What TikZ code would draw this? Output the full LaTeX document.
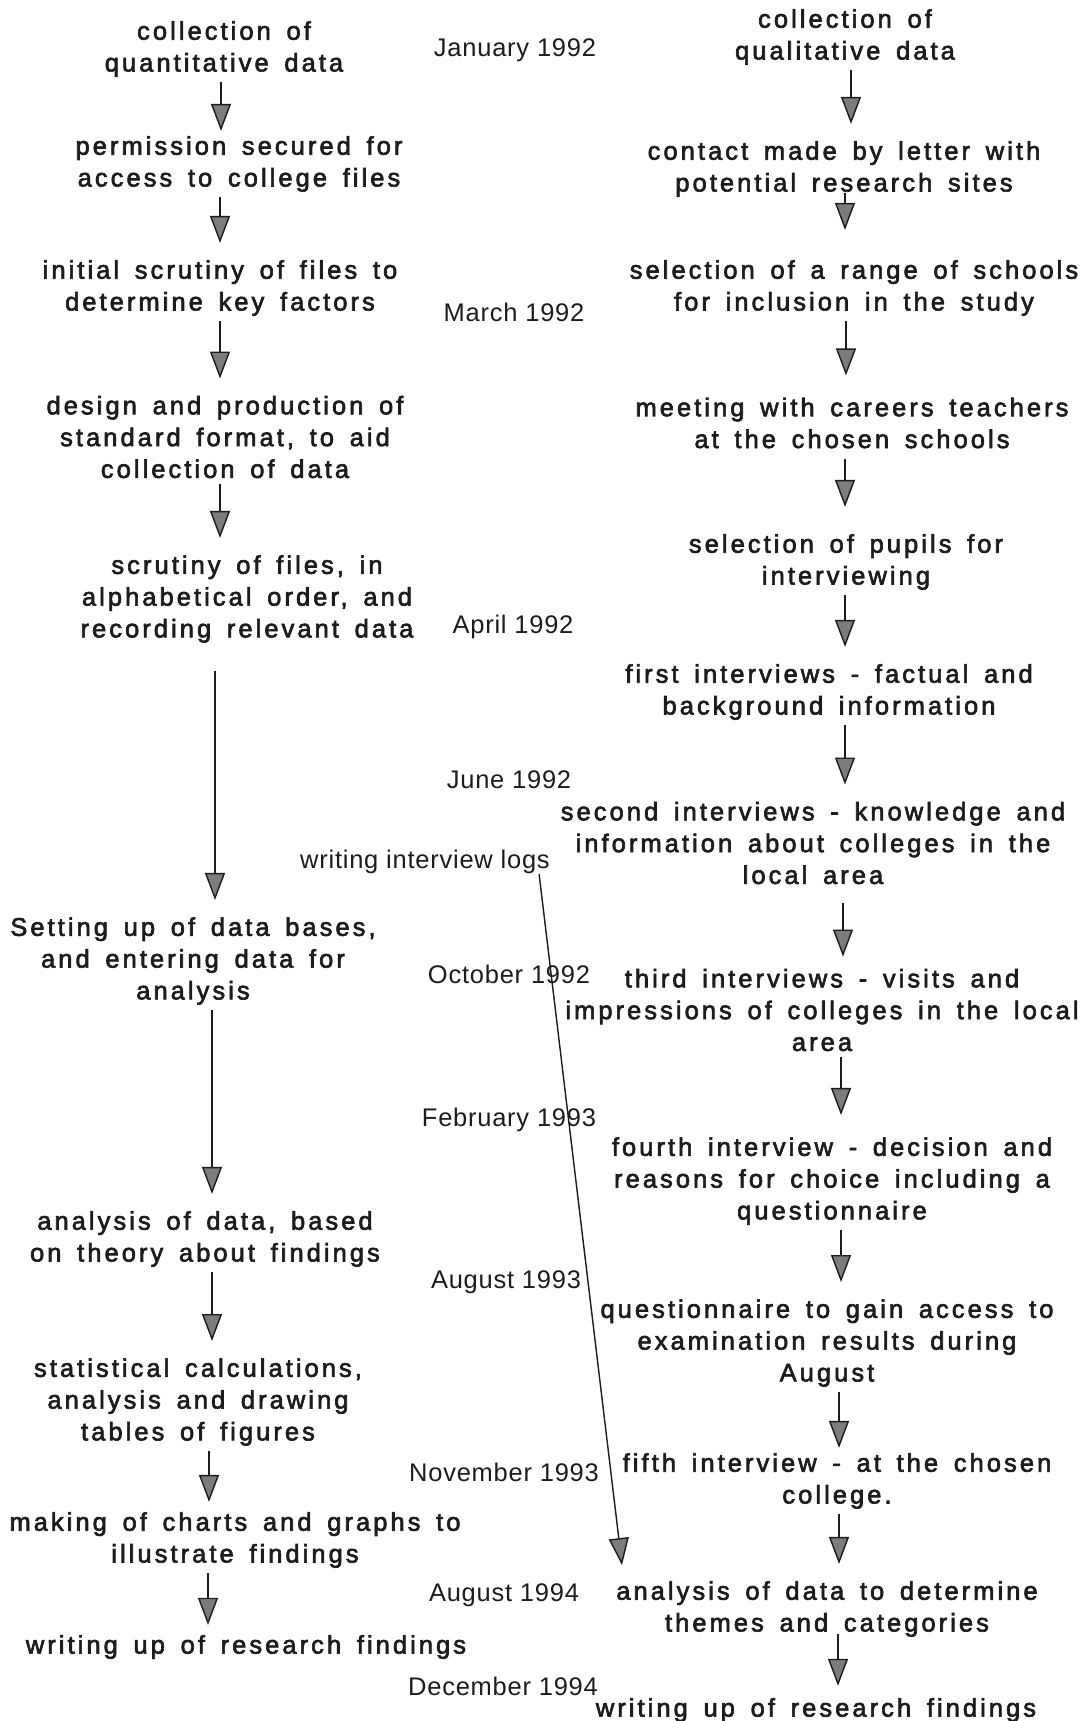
\documentclass[tikz,border=0pt]{standalone}
\usepackage{fontspec}
\usepackage{tikz}
\usetikzlibrary{arrows.meta}
\newfontfamily\stagefont{Liberation Sans}[LetterSpace=12,WordSpace=1.55,FakeBold=2.5]
\newfontfamily\datefont{Liberation Sans}[LetterSpace=3]
\definecolor{Ink}{HTML}{1C1C1C}
\definecolor{HeadGrey}{HTML}{7C7C7C}

\begin{document}
\begin{tikzpicture}[x=0.02cm, y=-0.02cm,
    stage/.style={font=\stagefont\fontsize{14.5}{18.1}\selectfont, text=Ink, align=center, inner sep=0pt},
    date/.style={font=\datefont\fontsize{14.5}{17}\selectfont, text=Ink, inner sep=0pt},
    arrow/.style={-{Triangle[length=0.54cm, width=0.4cm, fill=HeadGrey]}, draw=Ink, line width=0.8pt, shorten <=0.1cm, shorten >=0.34cm}
]
\useasboundingbox (0,0) rectangle (1088,1721);

% Quantitative data (left)
\node[stage] (L1) at (224,49) {collection of\\quantitative data};
\node[stage] (L2) at (239,164) {permission secured for\\access to college files};
\node[stage] (L3) at (220,288) {initial scrutiny of files to\\determine key factors};
\node[stage] (L4) at (225,437) {design and production of\\standard format, to aid\\collection of data};
\node[stage] (L5) at (247,599) {scrutiny of files, in\\alphabetical order, and\\recording relevant data};
\node[stage] (L6) at (193,961) {Setting up of data bases,\\and entering data for\\analysis};
\node[stage] (L7) at (205,1239) {analysis of data, based\\on theory about findings};
\node[stage] (L8) at (198,1402) {statistical calculations,\\analysis and drawing\\tables of figures};
\node[stage] (L9) at (235,1540) {making of charts and graphs to\\illustrate findings};
\node[stage] (L10) at (246,1647) {writing up of research findings};

% Qualitative data (right)
\node[stage] (R1) at (845,37) {collection of\\qualitative data};
\node[stage] (R2) at (844,169) {contact made by letter with\\potential research sites};
\node[stage] (R3) at (854,288) {selection of a range of schools\\for inclusion in the study};
\node[stage] (R4) at (852,423) {meeting with careers teachers\\at the chosen schools};
\node[stage] (R5) at (846,562) {selection of pupils for\\interviewing};
\node[stage] (R6) at (829,692) {first interviews - factual and\\background information};
\node[stage] (R7) at (813,843) {second interviews - knowledge and\\information about colleges in the\\local area};
\node[stage] (R8) at (822,1010) {third interviews - visits and\\impressions of colleges in the local\\area};
\node[stage] (R9) at (832,1181) {fourth interview - decision and\\reasons for choice including a\\questionnaire};
\node[stage] (R10) at (827,1343) {questionnaire to gain access to\\examination results during\\August};
\node[stage] (R11) at (837,1481) {fifth interview - at the chosen\\college.};
\node[stage] (R12) at (827,1609) {analysis of data to determine\\themes and categories};
\node[stage] (R13) at (816,1710) {writing up of research findings};

% Time line
\node[date] (jan92) at (515,50) {January 1992};
\node[date] (mar92) at (514,312) {March 1992};
\node[date] (apr92) at (513,627) {April 1992};
\node[date] (jun92) at (509,780) {June 1992};
\node[date] (logs) at (425,862) {writing interview logs};
\node[date] (oct92) at (509,974) {October 1992};
\node[date] (feb93) at (509,1120) {February 1993};
\node[date] (aug93) at (506,1282) {August 1993};
\node[date] (nov93) at (504,1472) {November 1993};
\node[date] (aug94) at (504,1595) {August 1994};
\node[date] (dec94) at (503,1686) {December 1994};

% Left arrows
\draw[arrow, shorten >=0.1cm] (L1.south -| 221,0) -- (L2.north -| 221,0);
\draw[arrow] (L2.south -| 220,0) -- (L3.north -| 220,0);
\draw[arrow] (L3.south -| 220,0) -- (L4.north -| 220,0);
\draw[arrow] (L4.south -| 220,0) -- (L5.north -| 220,0);
\draw[arrow, shorten <=0.56cm] (L5.south -| 215,0) -- (L6.north -| 215,0);
\draw[arrow] (L6.south -| 212,0) -- (L7.north -| 212,0);
\draw[arrow] (L7.south -| 212,0) -- (L8.north -| 212,0);
\draw[arrow, shorten >=0.2cm] (L8.south -| 209,0) -- (L9.north -| 209,0);
\draw[arrow, shorten >=0.2cm] (L9.south -| 208,0) -- (L10.north -| 208,0);

% Right arrows
\draw[arrow] (R1.south -| 851,0) -- (R2.north -| 851,0);
\draw[arrow, shorten <=-0.09cm, shorten >=0.6cm] (R2.south -| 845,0) -- (R3.north -| 845,0);
\draw[arrow, shorten >=0.44cm] (R3.south -| 846,0) -- (R4.north -| 846,0);
\draw[arrow, shorten <=0.2cm, shorten >=0.54cm] (R4.south -| 845,0) -- (R5.north -| 845,0);
\draw[arrow] (R5.south -| 845,0) -- (R6.north -| 845,0);
\draw[arrow] (R6.south -| 845,0) -- (R7.north -| 845,0);
\draw[arrow, shorten <=0.36cm, shorten >=0.24cm] (R7.south -| 843,0) -- (R8.north -| 843,0);
\draw[arrow, shorten >=0.44cm] (R8.south -| 841,0) -- (R9.north -| 841,0);
\draw[arrow] (R9.south -| 841,0) -- (R10.north -| 841,0);
\draw[arrow, shorten >=0.1cm] (R10.south -| 839,0) -- (R11.north -| 839,0);
\draw[arrow] (R11.south -| 839,0) -- (R12.north -| 839,0);
\draw[arrow, shorten <=-0.07cm, shorten >=0.24cm] (R12.south -| 838,0) -- (R13.north -| 838,0);

% Interview logs run on to the analysis
\coordinate (logtip) at (622,1565);
\draw[arrow, shorten <=0pt, shorten >=0pt] ([xshift=-0.22cm]logs.south east) -- (logtip);

\end{tikzpicture}
\end{document}
